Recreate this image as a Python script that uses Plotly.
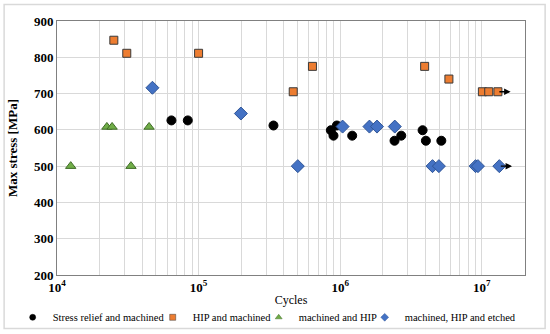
import math
import plotly.graph_objects as go

# ---- data ----
sr_cycles = [6.43e4, 8.39e4, 3.38e5, 8.59e5, 8.97e5, 9.48e5, 1.216e6, 2.42e6, 2.70e6, 3.82e6, 4.03e6, 5.18e6]
sr_stress = [626, 626, 612, 599, 584, 612, 584, 570, 584, 599, 570, 570]

hip_cycles = [2.52e4, 3.11e4, 1.0e5, 4.66e5, 6.37e5, 3.95e6, 5.86e6, 1.01e7, 1.12e7, 1.30e7]
hip_stress = [847, 811, 811, 705, 775, 775, 740, 705, 705, 705]

mh_cycles = [1.25e4, 2.25e4, 2.45e4, 3.33e4, 4.47e4]
mh_stress = [500, 608, 608, 500, 608]

mhe_cycles = [4.72e4, 1.99e5, 5.02e5, 1.04e6, 1.61e6, 1.82e6, 2.43e6, 4.49e6, 4.98e6, 9.04e6, 9.4e6, 1.33e7]
mhe_stress = [716, 645, 500, 609, 609, 609, 609, 500, 500, 500, 500, 500]

# run-out specimens (index into the series above)
runouts = [(hip_cycles, hip_stress, 9), (mhe_cycles, mhe_stress, 11)]

x_tick_vals = [1e4, 1e5, 1e6, 1e7]
x_tick_text = ["<b>10<sup>4</sup></b>", "<b>10<sup>5</sup></b>", "<b>10<sup>6</sup></b>", "<b>10<sup>7</sup></b>"]
y_tick_vals = [200, 300, 400, 500, 600, 700, 800, 900]

series = [
    ("Stress relief and machined", sr_cycles, sr_stress, "circle", "#000000", "#000000", 9),
    ("HIP and machined", hip_cycles, hip_stress, "square", "#ED7D31", "#3a3a3a", 8),
    ("machined and HIP", mh_cycles, mh_stress, "triangle-up", "#70AD47", "#3f6b27", 9),
    ("machined, HIP and etched", mhe_cycles, mhe_stress, "diamond", "#4472C4", "#2f5597", 10),
]
legend_x = [-0.0947, 0.2045, 0.431, 0.6575]

FONT = "Liberation Serif"
fig = go.Figure()
for name, xs, ys, sym, col, lcol, size in series:
    fig.add_trace(go.Scatter(
        x=xs, y=ys, mode="markers", name=name, showlegend=False,
        marker=dict(symbol=sym, color=col, size=size, line=dict(color=lcol, width=1)),
    ))

legend_layout = {}
for k, (name, xs, ys, sym, col, lcol, size) in enumerate(series):
    lname = "legend" if k == 0 else f"legend{k + 1}"
    fig.add_trace(go.Scatter(
        x=[None], y=[None], mode="markers", name=name, showlegend=True, legend=lname,
        marker=dict(symbol=sym, color=col, size=6, line=dict(color=lcol, width=0.5)),
    ))
    legend_layout[lname] = dict(
        orientation="h", x=legend_x[k], xanchor="left", y=-0.1665, yanchor="middle",
        font=dict(family=FONT, size=10.5, color="#000000"),
        itemwidth=30, bgcolor="rgba(0,0,0,0)", borderwidth=0,
    )

for xs, ys, i in runouts:
    lx = math.log10(xs[i])
    fig.add_annotation(
        x=lx + 0.09, y=ys[i], ax=lx, ay=ys[i], axref="x", ayref="y",
        xref="x", yref="y", showarrow=True, arrowhead=2, arrowsize=1,
        arrowwidth=1.3, arrowcolor="#000000", text="",
    )

# outer light frame
fig.add_shape(type="rect", xref="paper", yref="paper",
              x0=-0.113, x1=1.043, y0=-0.211, y1=1.065,
              line=dict(color="#D9D9D9", width=1.5), fillcolor="rgba(0,0,0,0)", layer="below")

fig.update_xaxes(
    type="log", range=[4, math.log10(2.02e7)], automargin=False,
    tickvals=x_tick_vals, ticktext=x_tick_text,
    tickfont=dict(family=FONT, size=13, color="#000000"),
    showgrid=True, gridcolor="#D9D9D9", gridwidth=1,
    minor=dict(dtick="D1", showgrid=True, gridcolor="#D9D9D9", gridwidth=1, ticks=""),
    showline=True, linecolor="#808080", linewidth=1, mirror=True,
    ticks="", zeroline=False,
    title=dict(text="Cycles", font=dict(family=FONT, size=12, color="#000000"), standoff=2),
)
fig.update_yaxes(
    range=[200, 900], tickvals=y_tick_vals, automargin=False,
    ticktext=[f"<b>{v}</b>" for v in y_tick_vals],
    tickfont=dict(family=FONT, size=13, color="#000000"),
    showgrid=True, gridcolor="#D9D9D9", gridwidth=1,
    showline=True, linecolor="#808080", linewidth=1, mirror=True,
    ticks="", zeroline=False,
    title=dict(text="<b>Max stress [MPa]</b>", font=dict(family=FONT, size=13, color="#000000"), standoff=13),
)

fig.update_layout(
    width=550, height=334,
    margin=dict(l=57, r=25, t=21, b=59, autoexpand=False),
    paper_bgcolor="#FFFFFF", plot_bgcolor="#FFFFFF",
    font=dict(family=FONT, color="#000000"),
    **legend_layout,
)

fig.write_html("out.html", config={"displayModeBar": False},
               post_script="document.body.style.margin='0';")
